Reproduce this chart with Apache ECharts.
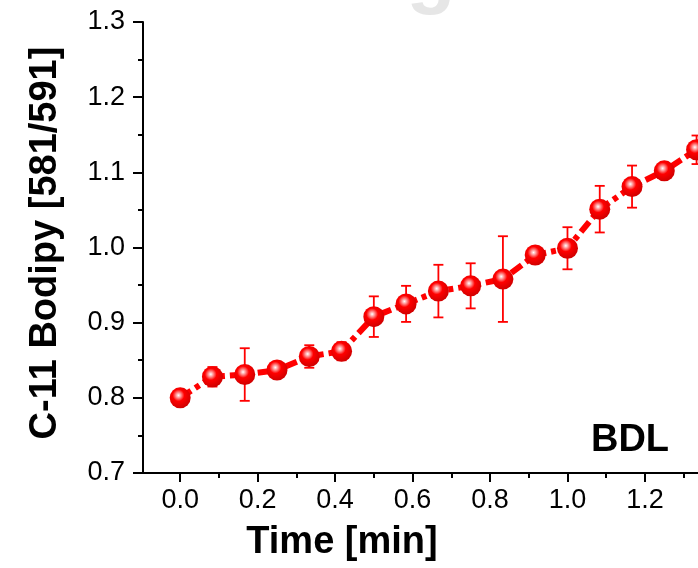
<!DOCTYPE html>
<html>
<head>
<meta charset="utf-8">
<script src="https://cdn.jsdelivr.net/npm/echarts@6/dist/echarts.min.js"></script>
<style>
  html, body { margin: 0; padding: 0; background: #fff; }
  #chart { width: 698px; height: 568px; }
</style>
</head>
<body>
<div id="chart"></div>
<script>
// time points [min]
const timeMin = [0, 0.0833, 0.1667, 0.25, 0.3333, 0.4167, 0.5, 0.5833, 0.6667, 0.75,
  0.8333, 0.9167, 1.0, 1.0833, 1.1667, 1.25, 1.3333];
// C-11 Bodipy ratio 581/591
const ratio = [0.800, 0.828, 0.831, 0.837, 0.855, 0.862, 0.908, 0.925, 0.942, 0.949,
  0.958, 0.990, 0.999, 1.051, 1.081, 1.102, 1.130];
// error (+/-)
const errBar = [0.006, 0.013, 0.035, 0.005, 0.015, 0.012, 0.027, 0.024, 0.035, 0.030,
  0.057, 0.006, 0.028, 0.031, 0.028, 0.006, 0.019];

const xMajor = [0, 0.2, 0.4, 0.6, 0.8, 1.0, 1.2];
const xMinor = [0.1, 0.3, 0.5, 0.7, 0.9, 1.1, 1.3];

const FONT = "'Liberation Sans', Arial, sans-serif";
const RED = '#ff0000';

const chart = echarts.init(document.getElementById('chart'));

const lineData = timeMin.map((t, i) => [t, ratio[i]]);
const errData = timeMin.map((t, i) => [t, ratio[i] - errBar[i], ratio[i] + errBar[i]]);

// sphere look for the markers
const ballColor = {
  type: 'radial', x: 0.42, y: 0.38, r: 0.62,
  colorStops: [
    { offset: 0, color: '#ffffff' },
    { offset: 0.18, color: '#ff9a9a' },
    { offset: 0.45, color: '#ff0000' },
    { offset: 1, color: '#d00000' },
  ],
};

const option = {
  animation: false,
  backgroundColor: '#fff',
  grid: { left: 143, top: 22, right: 0, bottom: 95 },
  xAxis: [
    {
      type: 'value', min: -0.096, max: 1.337,
      axisLine: { show: true, onZero: false, lineStyle: { color: '#000', width: 2 } },
      axisTick: { show: true, customValues: xMajor, length: 9, lineStyle: { color: '#000', width: 2 } },
      axisLabel: {
        customValues: xMajor, margin: 14, color: '#000', fontSize: 27, fontFamily: FONT,
        formatter: (v) => v.toFixed(1),
      },
      splitLine: { show: false },
    },
    {
      type: 'value', min: -0.096, max: 1.337, position: 'bottom',
      axisLine: { show: false },
      axisTick: { show: true, customValues: xMinor, length: 5, lineStyle: { color: '#000', width: 2 } },
      axisLabel: { show: false },
      splitLine: { show: false },
    },
  ],
  yAxis: {
    type: 'value', min: 0.7, max: 1.3, interval: 0.1,
    axisLine: { show: true, onZero: false, lineStyle: { color: '#000', width: 2 } },
    axisTick: { show: true, length: 10, lineStyle: { color: '#000', width: 2 } },
    minorTick: { show: true, splitNumber: 2, length: 5, lineStyle: { color: '#000', width: 2 } },
    axisLabel: {
      margin: 18, color: '#000', fontSize: 27, fontFamily: FONT,
      formatter: (v) => v.toFixed(1),
    },
    splitLine: { show: false },
  },
  series: [
    {
      type: 'custom',
      data: errData,
      z: 1,
      renderItem: function (params, api) {
        const p0 = api.coord([api.value(0), api.value(1)]);
        const p1 = api.coord([api.value(0), api.value(2)]);
        const hw = 5;
        const st = { stroke: RED, lineWidth: 1.8 };
        return {
          type: 'group',
          children: [
            { type: 'line', shape: { x1: p0[0], y1: p0[1], x2: p1[0], y2: p1[1] }, style: st },
            { type: 'line', shape: { x1: p0[0] - hw, y1: p0[1], x2: p0[0] + hw, y2: p0[1] }, style: st },
            { type: 'line', shape: { x1: p1[0] - hw, y1: p1[1], x2: p1[0] + hw, y2: p1[1] }, style: st },
          ],
        };
      },
    },
    {
      type: 'line',
      data: lineData,
      z: 3,
      symbol: 'circle',
      symbolSize: 21,
      showAllSymbol: true,
      clip: false,
      lineStyle: { color: RED, width: 6, type: [13, 5, 5, 5] },
      itemStyle: { color: ballColor, borderWidth: 0 },
    },
  ],
  graphic: [
    {
      type: 'text', x: 46, y: 243, rotation: Math.PI / 2,
      style: {
        text: 'C-11 Bodipy [581/591]', fill: '#000',
        font: 'bold 38px ' + FONT, textAlign: 'center', textVerticalAlign: 'middle',
      },
    },
    {
      type: 'text', x: 342, y: 543,
      style: {
        text: 'Time [min]', fill: '#000',
        font: 'bold 38px ' + FONT, textAlign: 'center', textVerticalAlign: 'middle',
      },
    },
    {
      type: 'text', x: 630, y: 441,
      style: {
        text: 'BDL', fill: '#000',
        font: 'bold 38px ' + FONT, textAlign: 'center', textVerticalAlign: 'middle',
      },
    },
    {
      type: 'text', x: 431, y: -64, z: -10,
      style: {
        text: 'g', fill: '#e6e6e6',
        font: 'bold 80px ' + FONT, textAlign: 'center', textVerticalAlign: 'top',
      },
    },
  ],
};

chart.setOption(option);
</script>
</body>
</html>
